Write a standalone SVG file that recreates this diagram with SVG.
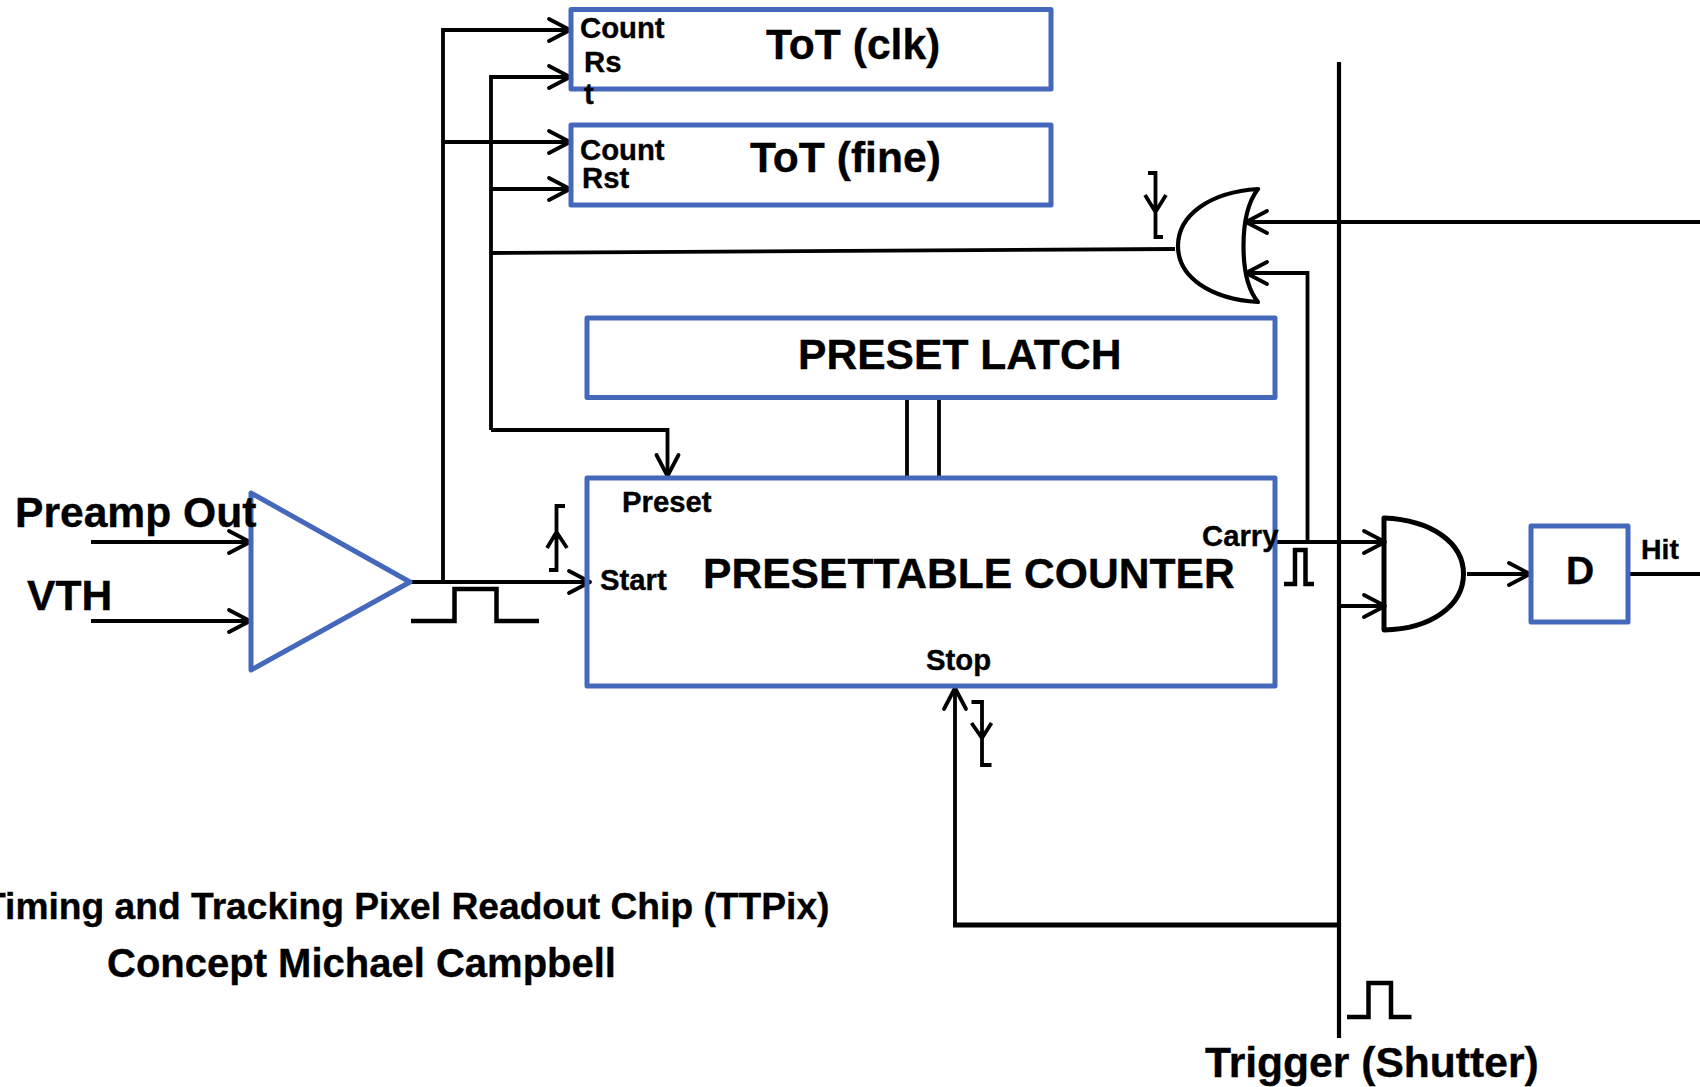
<svg xmlns="http://www.w3.org/2000/svg" width="1700" height="1087" viewBox="0 0 1700 1087">
<style>
text{font-family:"Liberation Sans",Arial,sans-serif;font-weight:700;fill:#000;stroke:#000;stroke-width:.35}
.box{fill:none;stroke:#4668BC;stroke-width:5;stroke-linejoin:round}
.w{fill:none;stroke:#000;stroke-width:3.8}
.wa{fill:none;stroke:#000;stroke-width:3.8;marker-end:url(#ah)}
.p{fill:none;stroke:#000;stroke-width:4.5}
.g{fill:none;stroke:#000;stroke-width:4.2;stroke-linejoin:round}
.s{font-size:29.3px}
.l{font-size:42.6px}
</style>
<defs>
<marker id="ah" markerUnits="userSpaceOnUse" markerWidth="30" markerHeight="30" refX="25" refY="15" orient="auto">
<path d="M4,4 L25,15 L4,26" fill="none" stroke="#000" stroke-width="3.8" stroke-linejoin="round" stroke-linecap="round"/>
</marker>
</defs>
<rect width="1700" height="1087" fill="#fff"/>
<g id="connectors">
<path class="wa" d="M443,582 V30 H570"/>
<path class="wa" d="M443,142 H570"/>
<path class="wa" d="M491,430 V77 H570"/>
<path class="wa" d="M491,189 H570"/>
<path class="w" d="M491,253 L1175,249"/>
<path class="wa" d="M491,430 H667.500 V476"/>
<path class="w" d="M907,397 V478 M939,397 V478"/>
<path class="wa" d="M91,542 H250"/>
<path class="wa" d="M91,621 H250"/>
<path class="wa" d="M410,582 H590"/>
<path class="wa" d="M1700,222 H1246"/>
<path class="wa" d="M1307.500,541 V273 H1246"/>
<path class="wa" d="M1275,542 H1385"/>
<path class="wa" d="M1339,606 H1385"/>
<path class="w" style="stroke-width:4.200" d="M1339,62 V1038"/>
<path class="wa" d="M1339,925 H955 V688"/>
<path class="w" style="stroke-width:5" d="M1339,925 H953"/>
<path class="wa" d="M1467,574 H1530"/>
<path class="w" d="M1628,574 H1700"/>
</g>
<g id="pulses">
<path class="p" d="M411,621 H454.500 V589 H496.500 V621 H539"/>
<path class="p" d="M1284,584 H1295 V550 H1305.500 V584 H1314"/>
<path class="p" d="M1347,1017 H1368.500 V983 H1391 V1017 H1411.500"/>
</g>
<g id="edge-arrows">
<path class="w" d="M565,506 H556.500 V570 H549 M547,548 L556.500,532 L567,548"/>
<path class="w" d="M1148,173 H1155.500 V237 H1163 M1145,195 L1155.500,212 L1166,195"/>
<path class="w" d="M971.500,702 H982 V765 H991.500 M971.500,723 L982,738 L991.500,723"/>
</g>
<g id="tot-clk">
<rect class="box" x="571" y="9.500" width="480" height="79.500"/>
<text class="s" x="580" y="38">Count</text>
<text class="s" x="584" y="72">Rs</text>
<text class="s" x="584" y="104">t</text>
<text class="l" x="766" y="59">ToT (clk)</text>
</g>
<g id="tot-fine">
<rect class="box" x="571" y="125" width="480" height="80"/>
<text class="s" x="580" y="160">Count</text>
<text class="s" x="582" y="188">Rst</text>
<text class="l" x="750" y="172">ToT (fine)</text>
</g>
<g id="preset-latch">
<rect class="box" x="587" y="318" width="688" height="79.500"/>
<text class="l" x="798" y="369">PRESET LATCH</text>
</g>
<g id="counter">
<rect class="box" x="587" y="478" width="688" height="208"/>
<text class="s" x="622" y="512">Preset</text>
<text class="s" x="600" y="590">Start</text>
<text class="s" x="926" y="670">Stop</text>
<text class="s" x="1202" y="546">Carry</text>
<text class="l" x="703" y="588">PRESETTABLE COUNTER</text>
</g>
<g id="comparator">
<path class="box" d="M251,493 L410,582 L251,670 Z"/>
</g>
<g id="or-gate">
<path class="g" d="M1258,189 C1210,192 1178,215 1178,246 C1178,277 1210,299 1258,302 C1248,290 1243.500,270 1243.500,246 C1243.500,222 1248,202 1258,189 Z"/>
</g>
<g id="and-gate">
<path class="g" style="stroke-width:5" d="M1384,518 C1432,520 1463.500,543 1463.500,574 C1463.500,605 1432,629 1384,630 Z"/>
</g>
<g id="d-box">
<rect class="box" x="1531" y="526" width="97" height="96"/>
<text x="1566" y="584" style="font-size:39px">D</text>
<text x="1641" y="559" style="font-size:28.5px">Hit</text>
</g>
<g id="labels">
<text class="l" x="15" y="527">Preamp Out</text>
<text class="l" x="27" y="610">VTH</text>
<text x="-17" y="919" style="font-size:37.2px">Timing and Tracking Pixel Readout Chip (TTPix)</text>
<text x="107" y="977" style="font-size:40px">Concept Michael Campbell</text>
<text class="l" x="1205" y="1077">Trigger (Shutter)</text>
</g>
</svg>
